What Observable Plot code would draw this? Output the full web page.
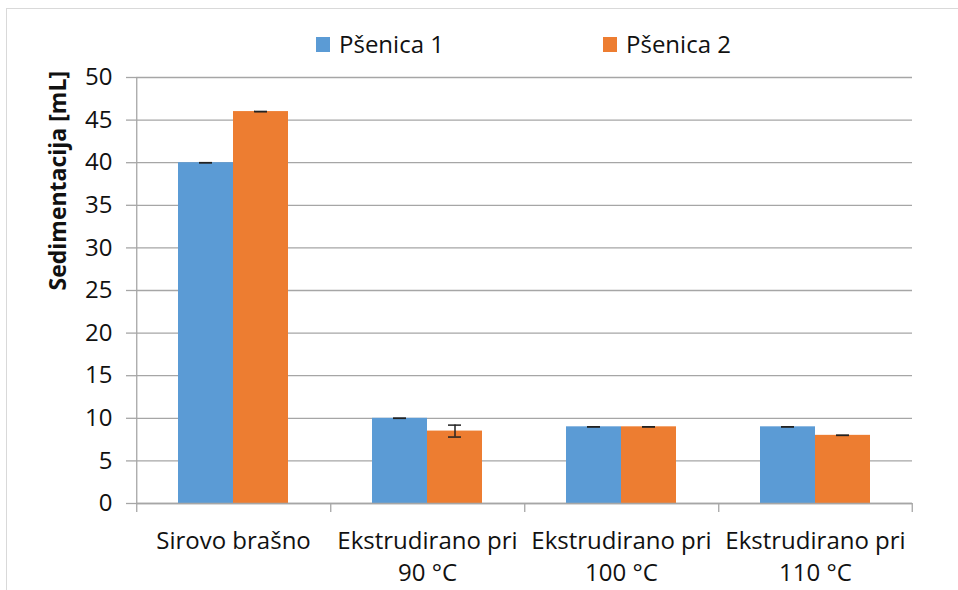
<!DOCTYPE html>
<html><head><meta charset="utf-8">
<script src="https://cdn.jsdelivr.net/npm/d3@7"></script>
<script src="https://cdn.jsdelivr.net/npm/@observablehq/plot@0.6"></script>
<style>
body{margin:0;background:#fff;}
#wrap{position:relative;width:958px;height:590px;overflow:hidden;font-family:"Open Sans",sans-serif;}
#frame{position:absolute;left:6px;top:8px;width:1000px;height:1000px;border:1px solid #d9d9d9;box-sizing:border-box;}
#chart{position:absolute;left:0;top:0;}
.leg{position:absolute;top:30px;height:28px;font-size:24px;line-height:28px;color:#111;display:flex;align-items:center;white-space:nowrap;}
.sw{width:14px;height:15px;margin-right:9px;}
</style></head><body>
<div id="wrap"><div id="frame"></div><div id="chart"></div><div id="legend"></div></div>
<script>
const categories = ["Sirovo brašno", "Ekstrudirano pri 90 °C", "Ekstrudirano pri 100 °C", "Ekstrudirano pri 110 °C"];
const categoryLabels = ["Sirovo brašno", "Ekstrudirano pri\n90 °C", "Ekstrudirano pri\n100 °C", "Ekstrudirano pri\n110 °C"];
const series = ["Pšenica 1", "Pšenica 2"];
const psenica1 = [40, 10, 9, 9];
const psenica2 = [46, 8.5, 9, 8];
const err1 = [0, 0, 0, 0];
const err2 = [0, 0.7, 0, 0];
const yTicks = [0, 5, 10, 15, 20, 25, 30, 35, 40, 45, 50];
const colors = ["#5B9BD5", "#ED7D31"];
const yLabel = "Sedimentacija [mL]";

const rows = [];
categories.forEach((c, i) => {
  rows.push({cat: c, series: series[0], value: psenica1[i], err: err1[i]});
  rows.push({cat: c, series: series[1], value: psenica2[i], err: err2[i]});
});

const W = 958, H = 590, ML = 135, MR = 45, MT = 77, MB = 87;
const band = (W - ML - MR) / categories.length;
const padOuter = 0.737;
const step = band / (series.length + 2 * padOuter);
const halfToEdge = step * padOuter + step / 2; // from first bar centre to facet edge
const grid = "#a6a6a6";

const leftTicks = categories.map(c => ({cat: c, series: series[0]}));
const rightTick = [{cat: categories[categories.length - 1], series: series[1]}];

const chart = Plot.plot({
  width: W, height: H,
  marginLeft: ML, marginRight: MR, marginTop: MT, marginBottom: MB,
  style: {fontFamily: "Open Sans", fontSize: "24px", color: "#111", background: "transparent", overflow: "visible"},
  fx: {domain: categories, padding: 0, axis: null},
  x: {domain: series, paddingInner: 0, paddingOuter: padOuter, axis: null},
  y: {domain: [0, 50], axis: null},
  color: {domain: series, range: colors},
  marks: [
    Plot.gridY(yTicks, {stroke: grid, strokeOpacity: 1, strokeWidth: 1.3}),
    Plot.axisY(yTicks, {tickSize: 10, tickPadding: 14, stroke: grid, strokeOpacity: 1, strokeWidth: 1.3, fontSize: 24, fill: "#111", label: null}),
    Plot.barY(rows, {fx: "cat", x: "series", y: "value", fill: "series"}),
    Plot.ruleX(rows, {fx: "cat", x: "series", y1: d => d.value - d.err, y2: d => d.value + d.err, stroke: "#222", strokeWidth: 1.5}),
    Plot.tickY(rows, {fx: "cat", x: "series", y: d => d.value + d.err, insetLeft: 21, insetRight: 21, stroke: "#222", strokeWidth: 1.5}),
    Plot.tickY(rows, {fx: "cat", x: "series", y: d => d.value - d.err, insetLeft: 21, insetRight: 21, stroke: "#222", strokeWidth: 1.5}),
    Plot.ruleY([0], {stroke: grid, strokeWidth: 1.3}),
    Plot.ruleX(leftTicks, {fx: "cat", x: "series", y1: 0, y2: 0, insetBottom: -9, dx: -halfToEdge, stroke: grid, strokeWidth: 1.3}),
    Plot.ruleX(rightTick, {fx: "cat", x: "series", y1: 0, y2: 0, insetBottom: -9, dx: halfToEdge, stroke: grid, strokeWidth: 1.3}),
    Plot.ruleX([leftTicks[0]], {fx: "cat", x: "series", y1: 0, y2: 50, dx: -halfToEdge, stroke: grid, strokeWidth: 1.3}),
    Plot.text(categories, {fx: d => d, text: (d, i) => categoryLabels[i], frameAnchor: "bottom", lineAnchor: "top", dy: 22, lineHeight: 1.35, fontSize: 24, fill: "#111"}),
    Plot.text([yLabel], {fx: () => categories[0], text: d => d, frameAnchor: "left", dx: -78, rotate: -90, fontWeight: "bold", fontSize: 23, fill: "#111"})
  ]
});
document.getElementById("chart").appendChild(chart);

const legend = document.getElementById("legend");
const legPos = [316, 603];
series.forEach((s, i) => {
  const item = document.createElement("div");
  item.className = "leg";
  item.style.left = legPos[i] + "px";
  const sw = document.createElement("div");
  sw.className = "sw";
  sw.style.background = colors[i];
  item.appendChild(sw);
  item.appendChild(document.createTextNode(s));
  legend.appendChild(item);
});
</script>
</body></html>
